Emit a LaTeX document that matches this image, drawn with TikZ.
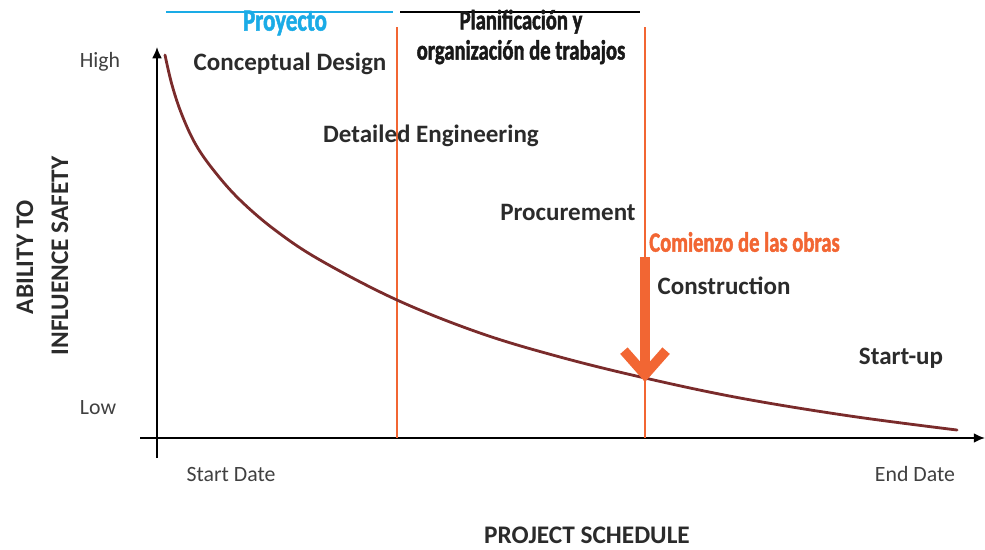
\documentclass[tikz,border=0pt]{standalone}
\usepackage{fontspec}
\setmainfont{Carlito}
\newfontfamily\condfont[FakeStretch=0.74,FakeBold=1.6]{Carlito}
\usetikzlibrary{arrows.meta,positioning}

\definecolor{ink}{HTML}{2B2B2B}
\definecolor{obra}{HTML}{F26633}
\definecolor{cielo}{HTML}{1AABE6}
\definecolor{curva}{HTML}{7A2B2B}

\begin{document}
\begin{tikzpicture}[x=0.025cm,y=-0.025cm,>=Latex,
  phase/.style={bold label,font=\fontsize{17.8}{20}\selectfont\bfseries},
  bold label/.style={text=ink,inner sep=1pt},
  tick/.style={text=ink!90,inner sep=1pt,font=\fontsize{15.5}{18}\selectfont},
  axis title/.style={text=ink,inner sep=1pt,font=\fontsize{18}{20}\selectfont\bfseries},
  head/.style={inner sep=0pt,align=center,font=\condfont\fontsize{19.8}{21.5}\selectfont\bfseries},
  axis/.style={line width=1.3pt,-{Latex[length=8pt,width=7pt]}},
  divider/.style={draw=obra,line width=0.8pt},
  obra arrow/.style={draw=obra,line width=7pt,-{Straight Barb[length=17pt,width=30pt]}}]
  \useasboundingbox (0,0) rectangle (985,549);

  % axes
  \coordinate (ybot) at (157,458);
  \coordinate (ytop) at (157,47);
  \coordinate (xleft) at (140,438);
  \coordinate (xright) at (985,438);
  \draw[axis] (ybot) -- (ytop);
  \draw[axis] (xleft) -- (xright);

  % phase dividers
  \coordinate (d1top) at (397,27);
  \coordinate (d1bot) at (397,438);
  \coordinate (d2top) at (645,27);
  \coordinate (d2bot) at (645,438);
  \draw[divider] (d1top) -- (d1bot);
  \draw[divider] (d2top) -- (d2bot);

  % curve
  \draw[curva,line width=2pt,line cap=round] plot[smooth,tension=0.6] coordinates {
    (165,55) (172,85) (182,115) (196,145) (215,172) (240,200) (275,230)
    (320,260) (397,300) (480,333) (560,357) (645,378) (740,398)
    (850,416) (957,430)};

  % header bars
  \coordinate (b1l) at (166,12);
  \coordinate (b1r) at (393,12);
  \coordinate (b2l) at (400,12);
  \coordinate (b2r) at (640,12);
  \draw[cielo,line width=1.4pt] (b1l) -- (b1r);
  \draw[black,line width=1pt] (b2l) -- (b2r);
  \node[head,text=cielo,font=\condfont\fontsize{22}{24}\selectfont\bfseries] (proyecto) at (285,23) {Proyecto};
  \node[head,text=black!90] (planif) at (521,37) {Planificación y\\organización de trabajos};

  % phases
  \node[phase] (concept) at (290,64) {Conceptual Design};
  \node[phase] (detail)  at (431,136) {Detailed Engineering};
  \node[phase] (procure) at (568,212) {Procurement};
  \node[phase] (constr)  at (724,286) {Construction};
  \node[phase] (startup) at (901,358) {Start-up};

  % start of works
  \node[head,text=obra,anchor=west] (comienzo) at (649,242) {Comienzo de las obras};
  \coordinate (otop) at (645,257);
  \coordinate (otip) at (645,382);
  \draw[obra arrow] (otop) -- (otip);

  % axis labels
  \node[tick] (high) at (100,62) {High};
  \node[tick] (low) at (98,408) {Low};
  \node[tick] (sdate) at (231,474) {Start Date};
  \node[tick] (edate) at (915,474) {End Date};
  \node[axis title] (xtitle) at (587,535) {PROJECT SCHEDULE};
  \node[axis title,rotate=90] (ytitle1) at (25,257) {ABILITY TO};
  \node[axis title,rotate=90] (ytitle2) at (60,256) {INFLUENCE SAFETY};
\end{tikzpicture}
\end{document}
